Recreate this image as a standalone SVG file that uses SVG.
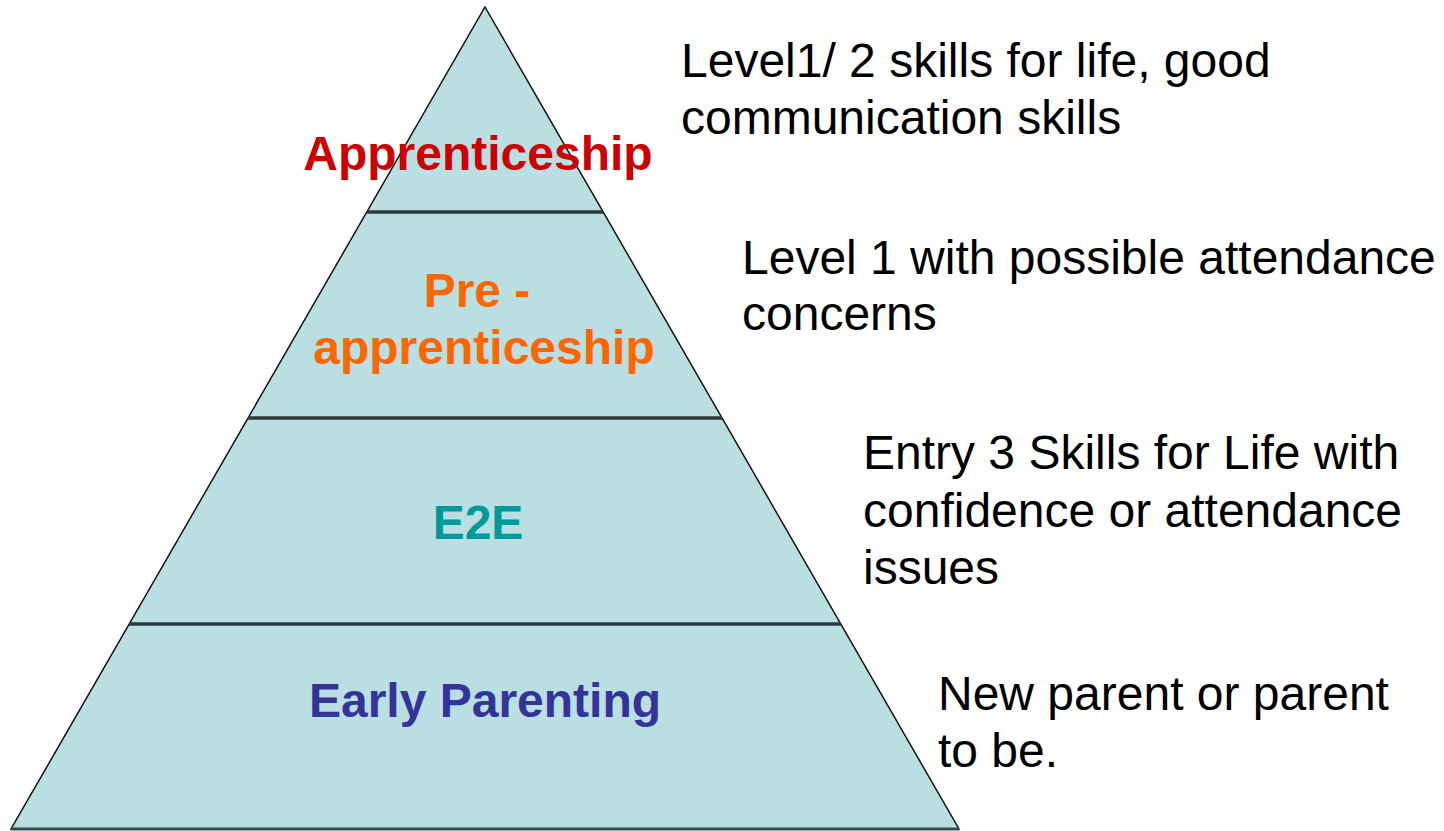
<svg xmlns="http://www.w3.org/2000/svg" width="1444" height="831" viewBox="0 0 1444 831">
<style>
.lbl{font-family:"Liberation Sans",Arial,sans-serif;font-size:48px;font-weight:bold;text-anchor:middle}
.desc{font-family:"Liberation Sans",Arial,sans-serif;font-size:48px;fill:#000}
.div{stroke:#2b3a3c;stroke-width:3.5}
</style>
<rect width="1444" height="831" fill="#fff"/>
<g id="pyramid">
<polygon points="485,7 959,829 11,829" fill="#b9dfe2" stroke="#111" stroke-width="1.5"/>
<line x1="11" y1="829" x2="959" y2="829" stroke="#3a4a4c" stroke-width="3"/>
</g>
<g id="connectors">
<line class="div" x1="367" y1="212" x2="603" y2="212"/>
<line class="div" x1="248" y1="418" x2="722" y2="418"/>
<line class="div" x1="129" y1="624" x2="841" y2="624" stroke="#111"/>
</g>
<g id="apprenticeship"><text class="lbl" x="478" y="170" fill="#cc0000">Apprenticeship</text></g>
<g id="pre-apprenticeship"><text class="lbl" x="484" y="307" fill="#ff6600"><tspan x="477" y="307">Pre -</tspan><tspan x="484" y="364">apprenticeship</tspan></text></g>
<g id="e2e"><text class="lbl" x="478" y="539" fill="#009999">E2E</text></g>
<g id="early-parenting"><text class="lbl" x="485" y="717" fill="#333399">Early Parenting</text></g>
<g id="desc-1"><text class="desc"><tspan x="681" y="77">Level1/ 2 skills for life, good</tspan><tspan x="681" y="134">communication skills</tspan></text></g>
<g id="desc-2"><text class="desc"><tspan x="742" y="274">Level 1 with possible attendance</tspan><tspan x="742" y="330">concerns</tspan></text></g>
<g id="desc-3"><text class="desc"><tspan x="863" y="469">Entry 3 Skills for Life with</tspan><tspan x="863" y="527">confidence or attendance</tspan><tspan x="863" y="584">issues</tspan></text></g>
<g id="desc-4"><text class="desc"><tspan x="938" y="710">New parent or parent</tspan><tspan x="938" y="767">to be.</tspan></text></g>
</svg>
